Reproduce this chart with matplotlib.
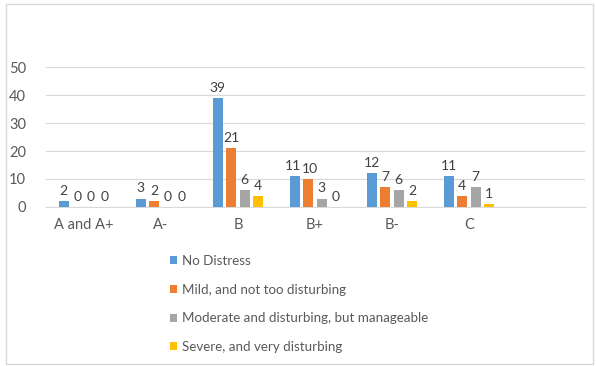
import matplotlib.pyplot as plt
from matplotlib.patches import Rectangle
import numpy as np

# Categories and series values
categories = ["A and A+", "A-", "B", "B+", "B-", "C", ""]
no_distress = [2, 3, 39, 11, 12, 11]
mild = [0, 2, 21, 10, 7, 4]
moderate = [0, 0, 6, 3, 6, 7]
severe = [0, 0, 4, 0, 2, 1]

series_names = ["No Distress", "Mild, and not too disturbing",
                "Moderate and disturbing, but manageable", "Severe, and very disturbing"]
series_values = [no_distress, mild, moderate, severe]
colors = ["#5B9BD5", "#ED7D31", "#A5A5A5", "#FFC000"]

plt.rcParams['font.family'] = ['Lato', 'DejaVu Sans']

fig = plt.figure(figsize=(5.96, 3.66), dpi=100)
ax = fig.add_axes([45.5 / 596, 159 / 366, 539 / 596, 140 / 366])

x = np.arange(len(no_distress))
pitch = 0.175
width = 0.13
n = len(series_values)
for i, (name, vals, col) in enumerate(zip(series_names, series_values, colors)):
    pos = x + (i - 1.5) * pitch
    ax.bar(pos, vals, width=width, color=col, label=name, zorder=3)
    for k, (xp, v) in enumerate(zip(pos, vals)):
        # nudge two-digit labels apart when neighbours at similar height are also two-digit
        dx = 0
        if v >= 10:
            if i + 1 < n and series_values[i + 1][k] >= 10 and abs(series_values[i + 1][k] - v) < 4:
                dx -= 1.5
            if i > 0 and series_values[i - 1][k] >= 10 and abs(series_values[i - 1][k] - v) < 4:
                dx += 1.5
        ax.annotate(str(v), (xp, v), xytext=(dx, 3), textcoords="offset points",
                    ha="center", va="bottom", fontsize=10, color="#404040",
                    annotation_clip=False)

ax.set_xlim(-0.5, len(categories) - 0.5)
ax.set_ylim(0, 50)
ax.set_yticks([0, 10, 20, 30, 40, 50])
ax.set_xticks(np.arange(len(categories)))
ax.set_xticklabels(categories)
ax.tick_params(axis="both", length=0, labelsize=10.5, colors="#595959")
ax.tick_params(axis="y", pad=14)
ax.tick_params(axis="x", pad=8)
ax.grid(axis="y", color="#D9D9D9", linewidth=0.8, zorder=0)
for side in ["top", "right", "left"]:
    ax.spines[side].set_visible(False)
ax.spines["bottom"].set_color("#D9D9D9")
ax.set_facecolor("none")

handles, labels = ax.get_legend_handles_labels()
leg = fig.legend(handles, labels, loc="upper left", bbox_to_anchor=(158 / 596, 1 - 243 / 366),
                 frameon=False, fontsize=9.6, handlelength=0.55, handleheight=0.55,
                 handletextpad=0.35, labelspacing=1.25, labelcolor="#595959")

# outer chart frame
fig.patches.append(Rectangle((6 / 596, 2 / 366), 587 / 596, 360 / 366, transform=fig.transFigure,
                             fill=False, edgecolor="#D9D9D9", linewidth=1.0))

fig.savefig("out.png", dpi=100)
